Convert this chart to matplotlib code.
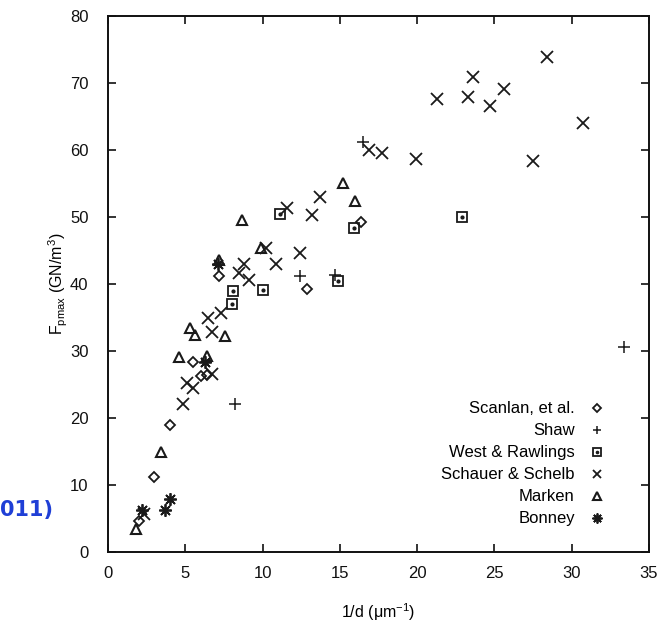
import matplotlib
matplotlib.use("Agg")
import matplotlib.pyplot as plt
from matplotlib.legend_handler import HandlerTuple

plt.rcParams['font.family'] = ['Liberation Sans', 'DejaVu Sans']

# ---- data ----
scanlan_x = [2.0, 3.0, 4.0, 5.5, 6.0, 6.4, 7.2, 12.9, 16.4]
scanlan_y = [4.6, 11.2, 19.0, 28.3, 26.2, 26.4, 41.2, 39.2, 49.2]

shaw_x = [8.2, 12.4, 14.7, 16.5, 33.4]
shaw_y = [22.1, 41.2, 41.3, 61.2, 30.6]

west_x = [8.0, 8.1, 10.0, 11.1, 14.9, 15.9, 22.9]
west_y = [37.0, 39.0, 39.1, 50.5, 40.4, 48.3, 50.0]

schauer_x = [2.3, 4.85, 5.1, 5.5, 6.7, 6.7, 6.5, 7.3, 8.5, 8.8, 9.1, 10.2,
             10.9, 12.4, 11.6, 13.2, 13.7, 16.9, 17.7, 19.9, 21.3, 23.3,
             23.6, 24.7, 25.6, 27.5, 28.4, 30.7]
schauer_y = [5.6, 22.1, 25.2, 24.5, 26.6, 32.9, 35.0, 35.6, 41.7, 43.0, 40.6,
             45.3, 43.0, 44.7, 51.4, 50.3, 53.0, 60.0, 59.6, 58.6, 67.6,
             67.9, 70.9, 66.6, 69.1, 58.4, 73.9, 64.1]

marken_x = [1.8, 3.4, 4.6, 6.4, 5.3, 5.6, 7.6, 7.2, 8.7, 9.9, 15.2, 16.0]
marken_y = [3.4, 14.9, 29.1, 29.2, 33.4, 32.4, 32.2, 43.6, 49.5, 45.3, 55.1, 52.4]

bonney_x = [2.2, 3.7, 4.0, 6.3, 7.1]
bonney_y = [6.3, 6.3, 7.9, 28.3, 43.0]

labels = ["Scanlan, et al.", "Shaw", "West & Rawlings", "Schauer & Schelb",
          "Marken", "Bonney"]

xticks = [0, 5, 10, 15, 20, 25, 30, 35]
yticks = [0, 10, 20, 30, 40, 50, 60, 70, 80]

# ---- figure ----
fig = plt.figure(figsize=(6.58, 6.30), dpi=100)
ax = fig.add_axes([108/658, 78/630, (649-108)/658, (552-16)/630])

k = '#1a1a1a'
h1, = ax.plot(scanlan_x, scanlan_y, ls='none', marker='D', ms=5, mfc='none',
              mec=k, mew=1.3)
h2, = ax.plot(shaw_x, shaw_y, ls='none', marker='+', ms=8, mec=k, mew=1.1)
h3a, = ax.plot(west_x, west_y, ls='none', marker='s', ms=7.5, mfc='none',
               mec=k, mew=1.3)
h3b, = ax.plot(west_x, west_y, ls='none', marker='o', ms=2, mfc=k, mec=k)
h4, = ax.plot(schauer_x, schauer_y, ls='none', marker='x', ms=8, mec=k, mew=1.3)
h5, = ax.plot(marken_x, marken_y, ls='none', marker='^', ms=7, mfc='none',
              mec=k, mew=1.5)
h6, = ax.plot(bonney_x, bonney_y, ls='none', marker=(8, 2, 0), ms=9, mec=k,
              mew=1.3)

ax.set_xlim(0, 35)
ax.set_ylim(0, 80)
ax.set_xticks(xticks)
ax.set_yticks(yticks)
ax.tick_params(direction='in', length=6, width=1.2, top=True, right=True,
               labelsize=12, colors='#111111')
ax.tick_params(axis='x', pad=10)
ax.tick_params(axis='y', pad=14)
for s in ax.spines.values():
    s.set_linewidth(1.4)
    s.set_color('#111111')

ax.set_xlabel(r"1/d ($\mathregular{\mu}$m$^{\mathregular{-1}}$)", fontsize=11.5,
              labelpad=15)
ax.set_ylabel(r"F$_{\mathregular{pmax}}$ (GN/m$^{\mathregular{3}}$)",
              fontsize=11.5, labelpad=0)

leg = ax.legend([h1, h2, (h3a, h3b), h4, h5, h6], labels,
                handler_map={tuple: HandlerTuple(ndivide=1)},
                loc='lower right', bbox_to_anchor=(0.94, 0.026),
                frameon=False, markerfirst=False, fontsize=12,
                markerscale=0.8,
                handlelength=0.9, handletextpad=0.9, labelspacing=0.42,
                borderpad=0.2)

fig.text(0.0, (630-510)/630, "011)", color='#1f3fd6', fontsize=15,
         fontweight='bold', ha='left', va='center', family='DejaVu Sans')

fig.savefig("out.png", dpi=100)
